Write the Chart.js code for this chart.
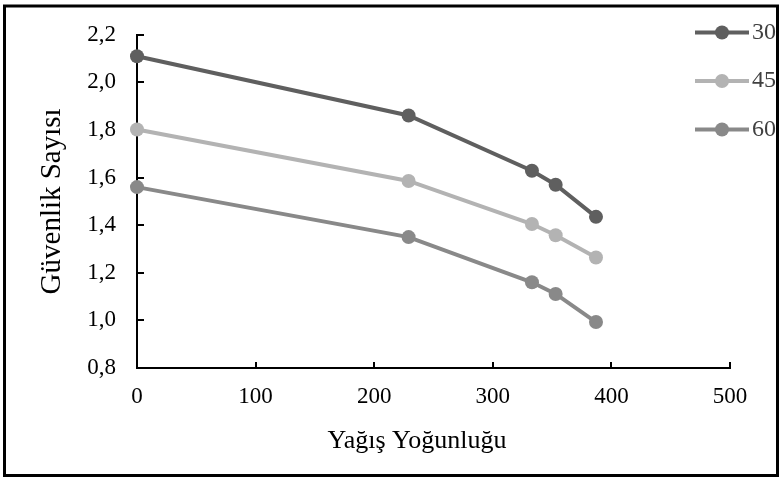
<!DOCTYPE html>
<html>

<head>
    <title>Güvenlik Sayısı</title>
    <script src="https://cdn.jsdelivr.net/npm/chart.js"></script>
    <style>
        body { margin: 0; background: #fff; }
    </style>
</head>

<body>
    <canvas id="myChart" width="779" height="479"></canvas>

    <script>
        // x values (Yağış Yoğunluğu)
        var yagis = [0, 229, 333, 353, 387];

        // series values
        var seri30 = [2.11, 1.861, 1.629, 1.57, 1.435];
        var seri45 = [1.802, 1.586, 1.405, 1.358, 1.264];
        var seri60 = [1.56, 1.35, 1.16, 1.111, 0.993];

        var seriesLabels = ['30', '45', '60'];
        var seriesColors = ['#5f5f5f', '#b3b3b3', '#898989'];

        var xTicks = [0, 100, 200, 300, 400, 500];
        var yTicks = [0.8, 1.0, 1.2, 1.4, 1.6, 1.8, 2.0, 2.2];

        var xTitle = 'Yağış Yoğunluğu';
        var yTitle = 'Güvenlik Sayısı';

        var serif = '"Times New Roman", "Liberation Serif", Tinos, "DejaVu Serif", serif';

        function toPoints(values) {
            return values.map(function (v, i) { return { x: yagis[i], y: v }; });
        }

        var datasets = [seri30, seri45, seri60].map(function (values, i) {
            return {
                label: seriesLabels[i],
                data: toPoints(values),
                borderColor: seriesColors[i],
                backgroundColor: seriesColors[i],
                pointBackgroundColor: seriesColors[i],
                borderWidth: 4,
                pointRadius: 7,
                pointBorderWidth: 0,
                pointHoverRadius: 7,
                tension: 0,
                clip: false
            };
        });

        // outer frame
        var framePlugin = {
            id: 'frame',
            beforeDraw: function (chart) {
                var ctx = chart.ctx;
                ctx.save();
                ctx.fillStyle = '#fff';
                ctx.fillRect(0, 0, chart.width, chart.height);
                ctx.strokeStyle = '#000';
                ctx.lineWidth = 3;
                ctx.strokeRect(4.5, 6, 773, 469.5);
                ctx.restore();
            }
        };

        // small tick marks pointing into the plot, plus the x title
        var innerTicks = {
            id: 'innerTicks',
            beforeDatasetsDraw: function (chart) {
                var ctx = chart.ctx;
                var xs = chart.scales.x, ys = chart.scales.y;
                var area = chart.chartArea;
                ctx.save();
                ctx.strokeStyle = '#000';
                ctx.lineWidth = 2;
                ctx.beginPath();
                xTicks.forEach(function (v) {
                    var px = Math.round(xs.getPixelForValue(v));
                    ctx.moveTo(px, area.bottom);
                    ctx.lineTo(px, area.bottom - 6);
                });
                yTicks.forEach(function (v) {
                    var py = Math.round(ys.getPixelForValue(v));
                    ctx.moveTo(area.left, py);
                    ctx.lineTo(area.left + 7, py);
                });
                ctx.stroke();

                // x title sits a little left of the axis centre in the original
                ctx.fillStyle = '#000';
                ctx.font = '26px ' + serif;
                ctx.textAlign = 'center';
                ctx.textBaseline = 'middle';
                ctx.fillText(xTitle, 417, 441);
                ctx.restore();
            }
        };

        // legend on the right: line + marker + label
        var sideLegend = {
            id: 'sideLegend',
            afterDraw: function (chart) {
                var ctx = chart.ctx;
                ctx.save();
                chart.data.datasets.forEach(function (ds, i) {
                    var y = 32.5 + i * 48.5;
                    ctx.strokeStyle = ds.borderColor;
                    ctx.lineWidth = 4;
                    ctx.beginPath();
                    ctx.moveTo(695, y);
                    ctx.lineTo(749, y);
                    ctx.stroke();
                    ctx.fillStyle = ds.borderColor;
                    ctx.beginPath();
                    ctx.arc(722, y, 7, 0, Math.PI * 2);
                    ctx.fill();
                    ctx.fillStyle = '#404040';
                    ctx.font = '24px ' + serif;
                    ctx.textAlign = 'left';
                    ctx.textBaseline = 'middle';
                    ctx.fillText(ds.label, 752, y);
                });
                ctx.restore();
            }
        };

        var ctx = document.getElementById('myChart').getContext('2d');

        var myChart = new Chart(ctx, {
            type: 'line',
            data: { datasets: datasets },
            plugins: [framePlugin, innerTicks, sideLegend],
            options: {
                responsive: false,
                animation: false,
                layout: { padding: { top: 32, right: 49, left: 0, bottom: 0 } },
                plugins: {
                    legend: { display: false },
                    tooltip: { enabled: false }
                },
                scales: {
                    x: {
                        type: 'linear',
                        min: 0,
                        max: 500,
                        afterFit: function (scale) { scale.height = 111; },
                        afterBuildTicks: function (scale) {
                            scale.ticks = xTicks.map(function (v) { return { value: v }; });
                        },
                        ticks: {
                            color: '#000',
                            font: { family: serif, size: 23 },
                            padding: 15,
                            maxRotation: 0,
                            callback: function (v) { return String(v); }
                        },
                        grid: { display: false, drawTicks: false },
                        border: { display: true, color: '#000', width: 2 },
                        title: { display: false }
                    },
                    y: {
                        min: 0.8,
                        max: 2.2,
                        afterFit: function (scale) { scale.width = 137; },
                        afterBuildTicks: function (scale) {
                            scale.ticks = yTicks.map(function (v) { return { value: v }; });
                        },
                        ticks: {
                            color: '#000',
                            font: { family: serif, size: 23 },
                            padding: 21,
                            callback: function (v) { return v.toFixed(1).replace('.', ','); }
                        },
                        grid: { display: false, drawTicks: false },
                        border: { display: true, color: '#000', width: 2 },
                        title: {
                            display: true,
                            text: yTitle,
                            color: '#000',
                            font: { family: serif, size: 29 },
                            padding: { top: 35, bottom: 0 }
                        }
                    }
                }
            }
        });
    </script>

</body>

</html>
